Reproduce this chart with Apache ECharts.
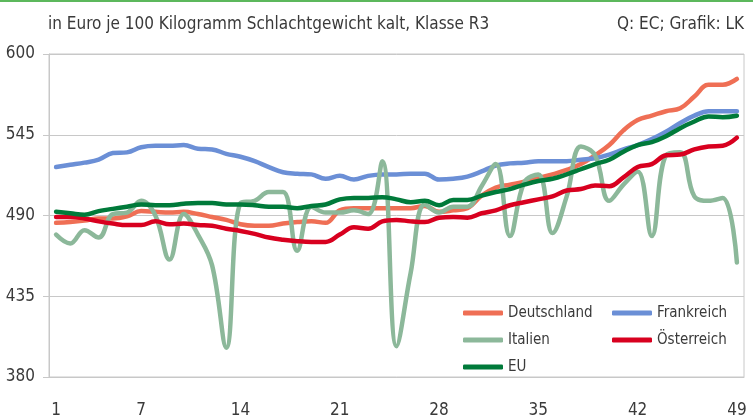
<!DOCTYPE html>
<html>
<head>
<meta charset="utf-8">
<script src="https://cdn.jsdelivr.net/npm/echarts@6/dist/echarts.min.js"></script>
<style>
  html, body { margin: 0; padding: 0; background: #fff; }
  #chart { width: 753px; height: 419px; }
</style>
</head>
<body>
<div id="chart"></div>
<script>
const weeks = Array.from({length: 49}, (_, i) => String(i + 1));
const xTickLabels = ['1', '7', '14', '21', '28', '35', '42', '49'];
const yTickLabels = ['380', '435', '490', '545', '600'];

const deutschland = [485, 485.5, 486.5, 488, 488, 489.5, 493, 492.5, 492, 492.5, 491, 489, 487, 484, 483, 483, 484.5, 485.5, 486, 485, 493.5, 495, 495, 495, 495, 495, 496.5, 492.5, 493.5, 495, 503.5, 509, 511, 513, 515.5, 518, 521, 525, 531, 538, 548, 555, 558, 561, 563, 571, 579, 579, 583];
const frankreich = [523, 524.5, 526, 528, 532.5, 533, 536.5, 537.5, 537.5, 538, 535.5, 535, 532, 530, 527, 523, 519.5, 518.5, 518, 515, 517, 514.5, 517, 518, 518, 518.5, 518.5, 514.5, 515, 516.5, 520, 524, 525.5, 526, 527, 527, 527, 528, 529, 531.5, 535, 538, 542, 547, 553, 558, 561, 561, 561];
const italien = [477, 471, 480, 475, 491, 492, 500, 490, 460, 491, 477, 456, 400, 498.5, 500, 506, 506, 466, 496, 492, 492, 493.5, 491, 527, 401, 451, 497.5, 492, 496, 496, 510, 525, 476, 512.5, 518, 478, 503, 537, 531, 500, 511, 520, 476, 531, 533, 503, 500, 502, 458];
const oesterreich = [489, 489, 488, 486, 484.5, 483.5, 483.5, 486, 484, 484.5, 483.5, 483, 481, 479.5, 477.5, 475, 473.5, 472.5, 472, 472, 477, 482, 481, 486, 487, 486, 485.5, 488.5, 489, 488.5, 491.5, 493.5, 497, 499, 501, 503, 507, 508, 510.5, 510, 516, 523, 525, 531, 531.5, 535, 537, 537.5, 543];
const eu = [492.5, 491.5, 490.5, 493, 494.5, 496, 497.5, 497, 497, 498, 498.5, 498.5, 497.5, 497.5, 497, 496, 496, 495, 496.5, 497.5, 501, 502, 502, 502.5, 501, 499, 500, 497, 500.5, 500.5, 503.5, 506, 508, 511, 513.5, 515, 518, 521.5, 525, 528, 533.5, 538, 540, 544, 549.5, 554, 557.5, 557, 558];

const FONT = '"Liberation Sans Narrow", "DejaVu Sans Condensed", "Roboto Condensed", Roboto, sans-serif';
const GRID_COLOR = '#c8c8c8';
const TEXT_COLOR = '#3a3a3a';

const seriesDefs = [
  {name: 'Deutschland', data: deutschland, color: '#ef6f55'},
  {name: 'Frankreich', data: frankreich, color: '#6b8fd6'},
  {name: 'Italien', data: italien, color: '#8cb89a'},
  {name: 'Österreich', data: oesterreich, color: '#d8001f'},
  {name: 'EU', data: eu, color: '#007a3a'}
];

const chart = echarts.init(document.getElementById('chart'), null, {renderer: 'canvas'});

const legendCommon = {
  orient: 'vertical',
  top: 303,
  padding: 0,
  icon: 'roundRect',
  itemWidth: 40,
  itemHeight: 5,
  itemGap: 7,
  selectedMode: false,
  textStyle: {fontFamily: FONT, fontSize: 15, color: TEXT_COLOR, lineHeight: 20}
};

const option = {
  animation: false,
  textStyle: {fontFamily: FONT},
  graphic: [{
    type: 'rect',
    left: 0, top: 0,
    shape: {width: 753, height: 2},
    style: {fill: '#5cb85c'}
  }],
  title: [
    {
      text: 'in Euro je 100 Kilogramm Schlachtgewicht kalt, Klasse R3',
      left: 43, top: 11,
      textStyle: {fontFamily: FONT, fontSize: 17, fontWeight: 'normal', color: TEXT_COLOR}
    },
    {
      text: 'Q: EC; Grafik: LK',
      right: 4, top: 11,
      textStyle: {fontFamily: FONT, fontSize: 17, fontWeight: 'normal', color: TEXT_COLOR}
    }
  ],
  legend: [
    Object.assign({left: 463, data: ['Deutschland', 'Italien', 'EU']}, legendCommon),
    Object.assign({left: 612, data: ['Frankreich', 'Österreich']}, legendCommon)
  ],
  grid: {
    left: 49, right: 9, top: 54, bottom: 41,
    show: true,
    borderColor: GRID_COLOR,
    borderWidth: 1
  },
  xAxis: {
    type: 'category',
    data: weeks,
    boundaryGap: true,
    axisLine: {lineStyle: {color: GRID_COLOR}},
    axisTick: {length: 7, interval: 6, lineStyle: {color: GRID_COLOR}},
    axisLabel: {
      margin: 25,
      fontSize: 17,
      color: TEXT_COLOR,
      fontFamily: FONT,
      interval: (idx, value) => xTickLabels.includes(value)
    }
  },
  yAxis: [
    {
      // data axis, prices
      type: 'value',
      min: 380,
      max: 600,
      show: false,
      splitLine: {show: false}
    },
    {
      // tick axis, one step per gridline
      type: 'value',
      min: 0,
      max: yTickLabels.length - 1,
      interval: 1,
      position: 'left',
      axisLine: {show: true, lineStyle: {color: GRID_COLOR}},
      axisTick: {show: true, length: 6, lineStyle: {color: GRID_COLOR}},
      splitLine: {lineStyle: {color: GRID_COLOR}},
      axisLabel: {
        margin: 14,
        fontSize: 17,
        color: TEXT_COLOR,
        fontFamily: FONT,
        formatter: v => yTickLabels[v]
      }
    }
  ],
  series: seriesDefs.map(s => ({
    name: s.name,
    type: 'line',
    yAxisIndex: 0,
    data: s.data,
    smooth: 0.4,
    symbol: 'none',
    color: s.color,
    lineStyle: {width: 4.5, color: s.color, cap: 'round'}
  }))
};

chart.setOption(option);
</script>
</body>
</html>
